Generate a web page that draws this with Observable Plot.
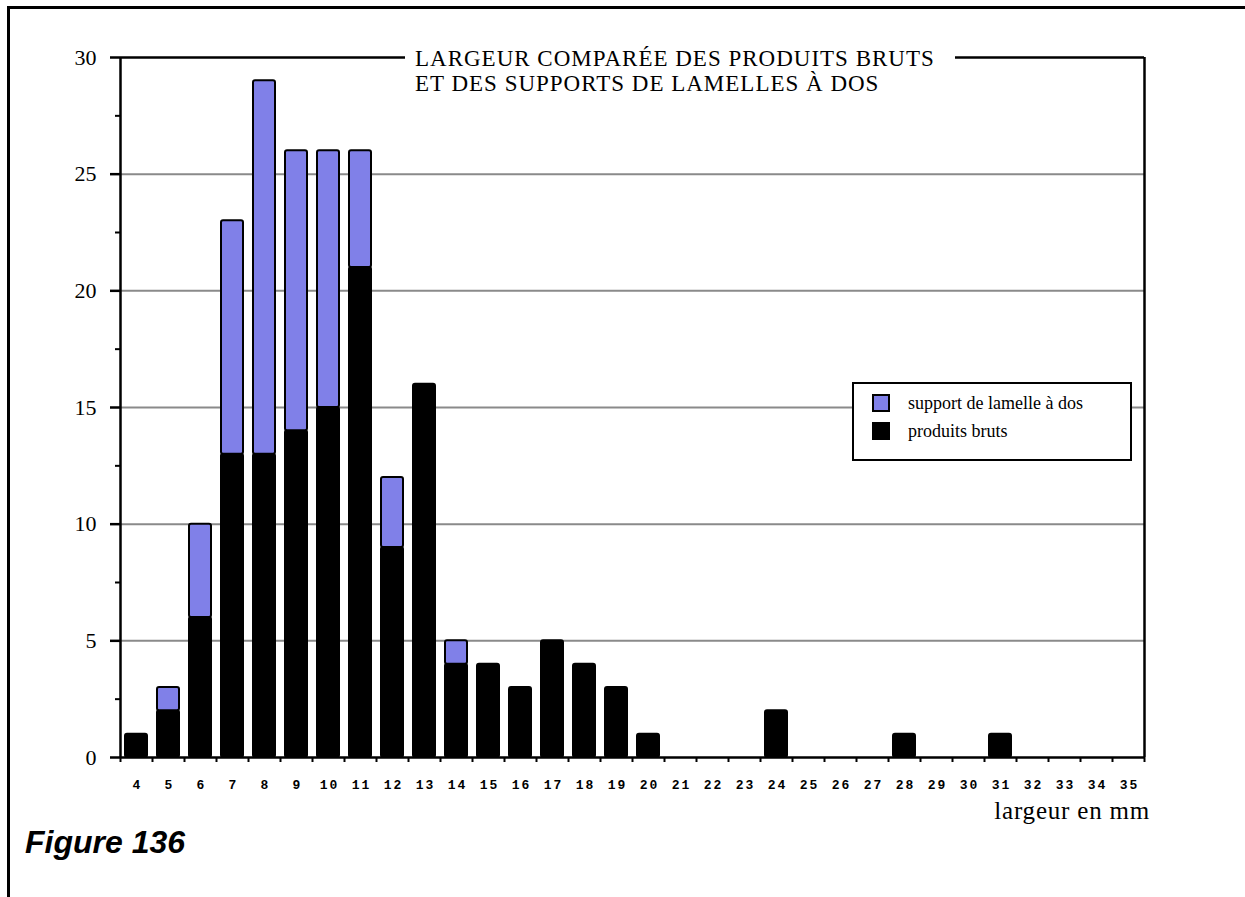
<!DOCTYPE html>
<html>
<head>
<meta charset="utf-8">
<script src="https://cdn.jsdelivr.net/npm/d3@7"></script>
<script src="https://cdn.jsdelivr.net/npm/@observablehq/plot@0.6"></script>
<style>
  html, body { margin: 0; padding: 0; background: white; }
  #wrap { position: relative; width: 1245px; height: 897px; overflow: hidden; }
  #wrap svg { position: absolute; left: 0; top: 0; }
  .frame { position: absolute; left: 7px; top: 6px; width: 1250px; height: 900px; border-top: 3px solid black; border-left: 3px solid black; }
  .title { position: absolute; left: 405px; top: 46px; width: 530px; padding: 0 10px; background: white; font-family: "Liberation Serif", serif; font-size: 23px; letter-spacing: 1px; line-height: 25px; color: black; white-space: nowrap; }
  .legend { position: absolute; left: 852px; top: 382px; width: 280px; height: 79px; box-sizing: border-box; border: 2px solid black; background: white; font-family: "Liberation Serif", serif; font-size: 18px; color: black; }
  .legend .sw { position: absolute; left: 18px; width: 14px; height: 14px; border: 2px solid black; }
  .legend .lab { position: absolute; left: 54px; line-height: 20px; white-space: nowrap; }
  .xlabel { position: absolute; right: 95px; top: 797px; font-family: "Liberation Serif", serif; font-size: 25px; letter-spacing: 0.8px; line-height: normal; color: black; white-space: nowrap; }
  .fig { position: absolute; left: 25px; top: 826px; font-family: "Liberation Sans", Arial, sans-serif; font-weight: bold; font-style: italic; font-size: 32px; line-height: 32px; color: black; }
</style>
</head>
<body>
<div id="wrap"></div>
<script>
const categories = [4,5,6,7,8,9,10,11,12,13,14,15,16,17,18,19,20,21,22,23,24,25,26,27,28,29,30,31,32,33,34,35];
const produitsBruts = [1,2,6,13,13,14,15,21,9,16,4,4,3,5,4,3,1,0,0,0,2,0,0,0,1,0,0,1,0,0,0,0];
const supportLamelle = [0,1,4,10,16,12,11,5,3,0,1,0,0,0,0,0,0,0,0,0,0,0,0,0,0,0,0,0,0,0,0,0];
const seriesNames = ["support de lamelle à dos", "produits bruts"];
const seriesColors = ["#8080e8", "#000000"];
const yTicks = [0,5,10,15,20,25,30];
const yMinorTicks = [2.5,7.5,12.5,17.5,22.5,27.5];
const gridValues = [5,10,15,20,25];
const titleLines = ["LARGEUR COMPARÉE DES PRODUITS BRUTS", "ET DES SUPPORTS DE LAMELLES À DOS"];
const xAxisLabel = "largeur en mm";
const figureLabel = "Figure 136";

const table = categories.map((c, i) => ({w: c, bruts: produitsBruts[i], support: supportLamelle[i]}));
const boundaries = categories.map(c => c - 0.5).concat([categories[categories.length - 1] + 0.5]);
const xDomain = [boundaries[0], boundaries[boundaries.length - 1]];

const plot = Plot.plot({
  width: 1245,
  height: 897,
  marginLeft: 120,
  marginRight: 101,
  marginTop: 57,
  marginBottom: 140,
  x: {domain: xDomain, axis: null},
  y: {domain: [0, 30], axis: null},
  style: {background: "transparent", color: "black"},
  marks: [
    Plot.ruleY(gridValues, {stroke: "#8a8a8a", strokeWidth: 2}),
    Plot.rectY(table.filter(d => d.bruts > 0), {
      x1: d => d.w - 0.5, x2: d => d.w + 0.5, y1: 0, y2: "bruts",
      fill: seriesColors[1], stroke: "black", strokeWidth: 2, insetLeft: 5, insetRight: 5, rx: 2
    }),
    Plot.rectY(table.filter(d => d.support > 0), {
      x1: d => d.w - 0.5, x2: d => d.w + 0.5, y1: "bruts", y2: d => d.bruts + d.support,
      fill: seriesColors[0], stroke: "black", strokeWidth: 2, insetLeft: 5, insetRight: 5, rx: 2
    }),
    Plot.ruleY([30], {stroke: "black", strokeWidth: 2.5}),
    Plot.ruleX([xDomain[1]], {stroke: "black", strokeWidth: 2.5}),
    Plot.ruleY([0], {stroke: "black", strokeWidth: 2.5}),
    Plot.ruleX([xDomain[0]], {stroke: "black", strokeWidth: 2.5}),
    Plot.axisY({ticks: yTicks, tickSize: 10, tickPadding: 14, strokeWidth: 2.5, fontSize: 22, fontFamily: "Liberation Serif", label: null, tickFormat: d => d}),
    Plot.axisY({ticks: yMinorTicks, tickSize: 5, strokeWidth: 2, label: null, tickFormat: () => ""}),
    Plot.axisX({ticks: boundaries, tickSize: 5, strokeWidth: 2, label: null, tickFormat: () => ""}),
    Plot.axisX({ticks: categories, tickSize: 0, tickPadding: 22, dx: 1, fontSize: 13, fontFamily: "Liberation Mono", fontWeight: "bold", label: null, tickFormat: d => d, className: "xlabs"})
  ]
});
const wrap = document.getElementById("wrap");
wrap.appendChild(plot);
plot.querySelectorAll(".xlabs text, g.xlabs text").forEach(t => t.setAttribute("letter-spacing", "2"));

const frame = document.createElement("div"); frame.className = "frame"; wrap.appendChild(frame);
const title = document.createElement("div"); title.className = "title";
title.innerHTML = titleLines.join("<br>"); wrap.appendChild(title);

const legend = document.createElement("div"); legend.className = "legend";
seriesNames.forEach((name, i) => {
  const sw = document.createElement("div"); sw.className = "sw";
  sw.style.top = (10 + i * 28) + "px"; sw.style.background = seriesColors[i];
  const lab = document.createElement("div"); lab.className = "lab";
  lab.style.top = (9 + i * 28) + "px"; lab.textContent = name;
  legend.appendChild(sw); legend.appendChild(lab);
});
wrap.appendChild(legend);

const xl = document.createElement("div"); xl.className = "xlabel"; xl.textContent = xAxisLabel; wrap.appendChild(xl);
const fig = document.createElement("div"); fig.className = "fig"; fig.textContent = figureLabel; wrap.appendChild(fig);
</script>
</body>
</html>
